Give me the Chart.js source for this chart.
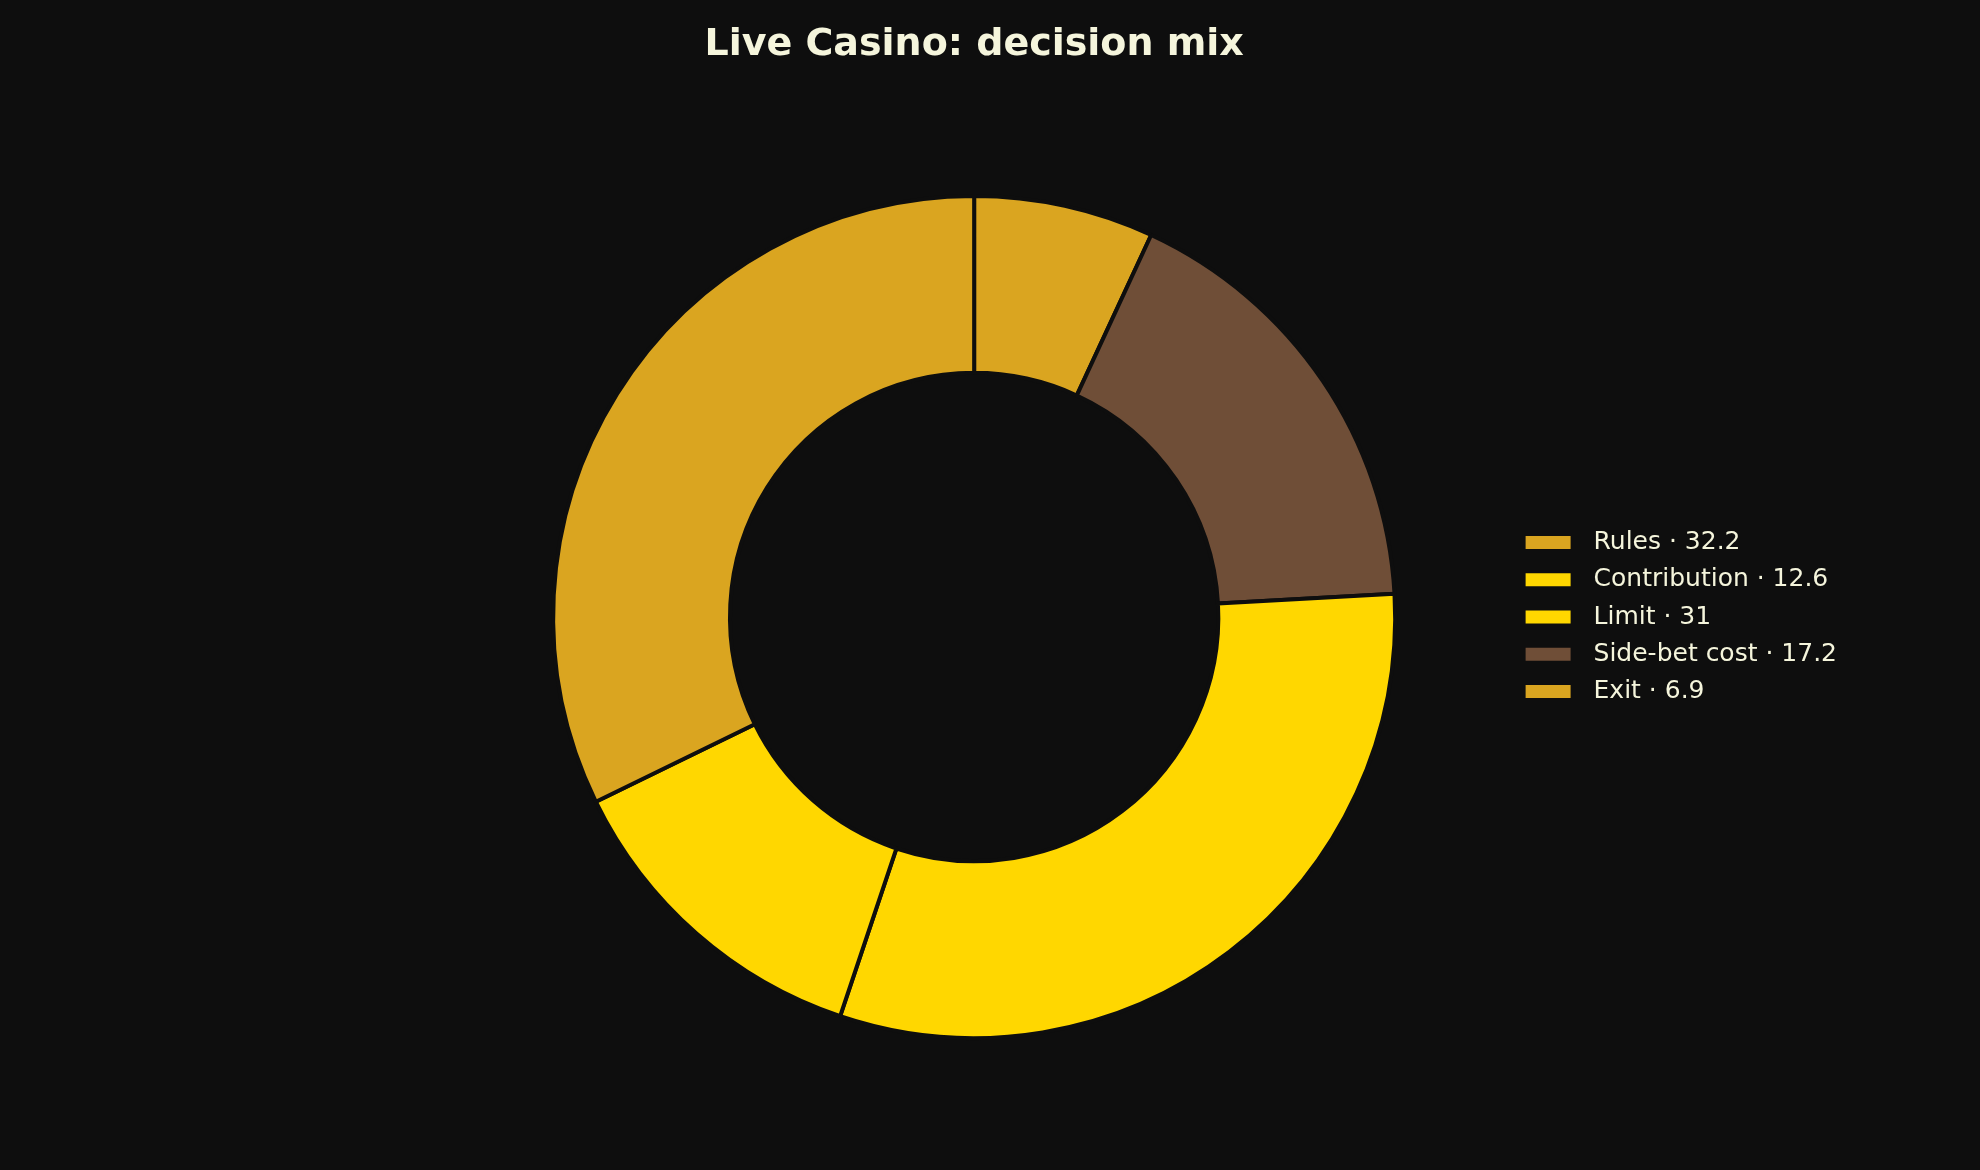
<!DOCTYPE html>
<html>
<head>
<meta charset="utf-8">
<title>Live Casino: decision mix</title>
<script src="https://cdn.jsdelivr.net/npm/chart.js@4/dist/chart.umd.min.js"></script>
<style>
  html, body { margin: 0; padding: 0; background: #0e0e0e; }
  .wrap { width: 1980px; height: 1170px; position: relative; }
</style>
</head>
<body>
<div class="wrap"><canvas id="mixChart"></canvas></div>
<script>
// Slices as listed in the legend
const categories = ['Rules', 'Contribution', 'Limit', 'Side-bet cost', 'Exit'];
const shares = [32.2, 12.6, 31, 17.2, 6.9];
const sliceColors = ['#daa520', '#ffd700', '#ffd700', '#6f4e37', '#daa520'];

const textColor = '#f5f5dc';
const bgColor = '#0e0e0e';

// The reference runs counter-clockwise from the top; Chart.js runs clockwise,
// so feed the slices in reverse and flip the legend back.
const labels = categories.slice().reverse();
const values = shares.slice().reverse();
const colors = sliceColors.slice().reverse();

const ctx = document.getElementById('mixChart').getContext('2d');

const mixChart = new Chart(ctx, {
    type: 'doughnut',
    data: {
        labels: labels,
        datasets: [{
            data: values,
            backgroundColor: colors,
            borderColor: bgColor,
            borderWidth: 4,
            hoverOffset: 0
        }]
    },
    options: {
        responsive: true,
        maintainAspectRatio: false,
        animation: false,
        cutout: '58%',
        layout: {
            padding: { left: 435, right: 133, top: 0, bottom: 130 }
        },
        plugins: {
            title: {
                display: true,
                text: 'Live Casino: decision mix',
                color: textColor,
                fullSize: false,
                font: { family: 'DejaVu Sans', size: 38, weight: 'bold' },
                padding: { top: 22, bottom: 126.4 }
            },
            legend: {
                position: 'right',
                fullSize: false,
                reverse: true,
                labels: {
                    color: textColor,
                    font: { family: 'DejaVu Sans', size: 25 },
                    boxWidth: 45,
                    boxHeight: 13,
                    padding: 12.3,
                    generateLabels: function(chart) {
                        const base = Chart.overrides.doughnut.plugins.legend.labels.generateLabels(chart);
                        return base.map(item => {
                            // small extra gap between swatch and text
                            item.text = ' \u200a' + item.text + ' \u00b7 ' + chart.data.datasets[0].data[item.index];
                            item.lineWidth = 0;
                            return item;
                        });
                    }
                }
            },
            tooltip: { enabled: false }
        }
    }
});
</script>
</body>
</html>
